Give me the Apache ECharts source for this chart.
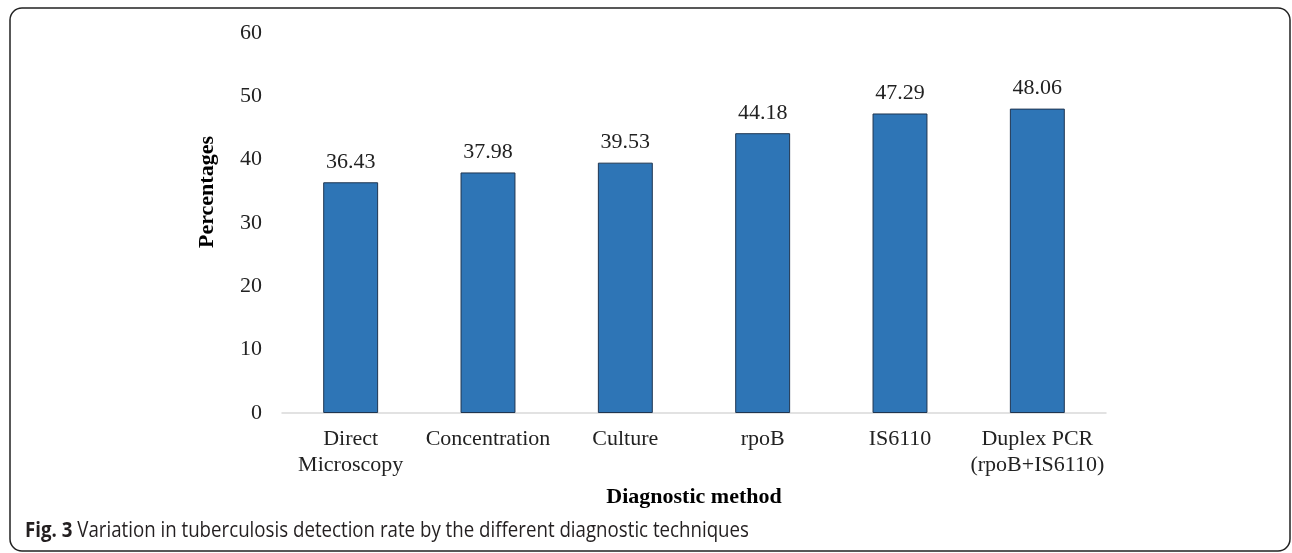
<!DOCTYPE html>
<html>
<head>
<meta charset="utf-8">
<script src="https://cdn.jsdelivr.net/npm/echarts@6/dist/echarts.min.js"></script>
<style>
  html, body { margin: 0; padding: 0; background: #fff; }
  #chart { width: 1292px; height: 553px; }
</style>
</head>
<body>
<div id="chart"></div>
<script>
var categories = ['Direct\nMicroscopy', 'Concentration', 'Culture', 'rpoB', 'IS6110', 'Duplex PCR\n(rpoB+IS6110)'];
var rates = [36.43, 37.98, 39.53, 44.18, 47.29, 48.06];
var yTicks = [0, 10, 20, 30, 40, 50, 60];

var serif = '"Liberation Serif", "Times New Roman", serif';

var chart = echarts.init(document.getElementById('chart'), null, { renderer: 'canvas' });
chart.setOption({
    animation: false,
    backgroundColor: '#fff',
    grid: { left: 282, right: 186, top: 33, bottom: 140 },
    xAxis: {
        type: 'category',
        data: categories,
        name: 'Diagnostic method',
        nameLocation: 'middle',
        nameGap: 73,
        nameTextStyle: { fontFamily: serif, fontSize: 22, fontWeight: 'bold', color: '#000' },
        axisLine: { lineStyle: { color: '#d9d9d9', width: 1.5 } },
        axisTick: { show: false },
        axisLabel: { fontFamily: serif, fontSize: 22, color: '#222', margin: 13, lineHeight: 26, interval: 0 }
    },
    yAxis: {
        type: 'value',
        min: yTicks[0],
        max: yTicks[yTicks.length - 1],
        interval: 10,
        name: 'Percentages',
        nameLocation: 'middle',
        nameGap: 64,
        nameRotate: 90,
        nameTextStyle: { fontFamily: serif, fontSize: 22, fontWeight: 'bold', color: '#000', padding: [0, 0, 0, 62] },
        axisLine: { show: false },
        axisTick: { show: false },
        splitLine: { show: false },
        axisLabel: { fontFamily: serif, fontSize: 22, color: '#222', margin: 20 }
    },
    series: [{
        type: 'bar',
        data: rates,
        barWidth: '40%',
        itemStyle: { color: '#2e75b6', borderColor: '#1f3550', borderWidth: 1 },
        label: {
            show: true,
            position: 'top',
            distance: 9,
            fontFamily: serif,
            fontSize: 22,
            color: '#222',
            formatter: function (p) { return p.value.toFixed(2); }
        }
    }],
    graphic: [
        {
            type: 'rect',
            shape: { x: 10, y: 8, width: 1280, height: 543, r: 12 },
            style: { fill: 'none', stroke: '#222', lineWidth: 1.5 },
            silent: true
        },
        {
            type: 'text',
            x: 25,
            y: 531,
            scaleX: 0.89,
            style: {
                text: '{b|Fig. 3} Variation in tuberculosis detection rate by the different diagnostic techniques',
                fontFamily: '"Open Sans", sans-serif',
                fontSize: 21,
                verticalAlign: 'middle',
                fill: '#231f20',
                rich: {
                    b: { fontFamily: '"Open Sans", sans-serif', fontSize: 21, fontWeight: 'bold', fill: '#231f20' }
                }
            }
        }
    ]
});
</script>
</body>
</html>
